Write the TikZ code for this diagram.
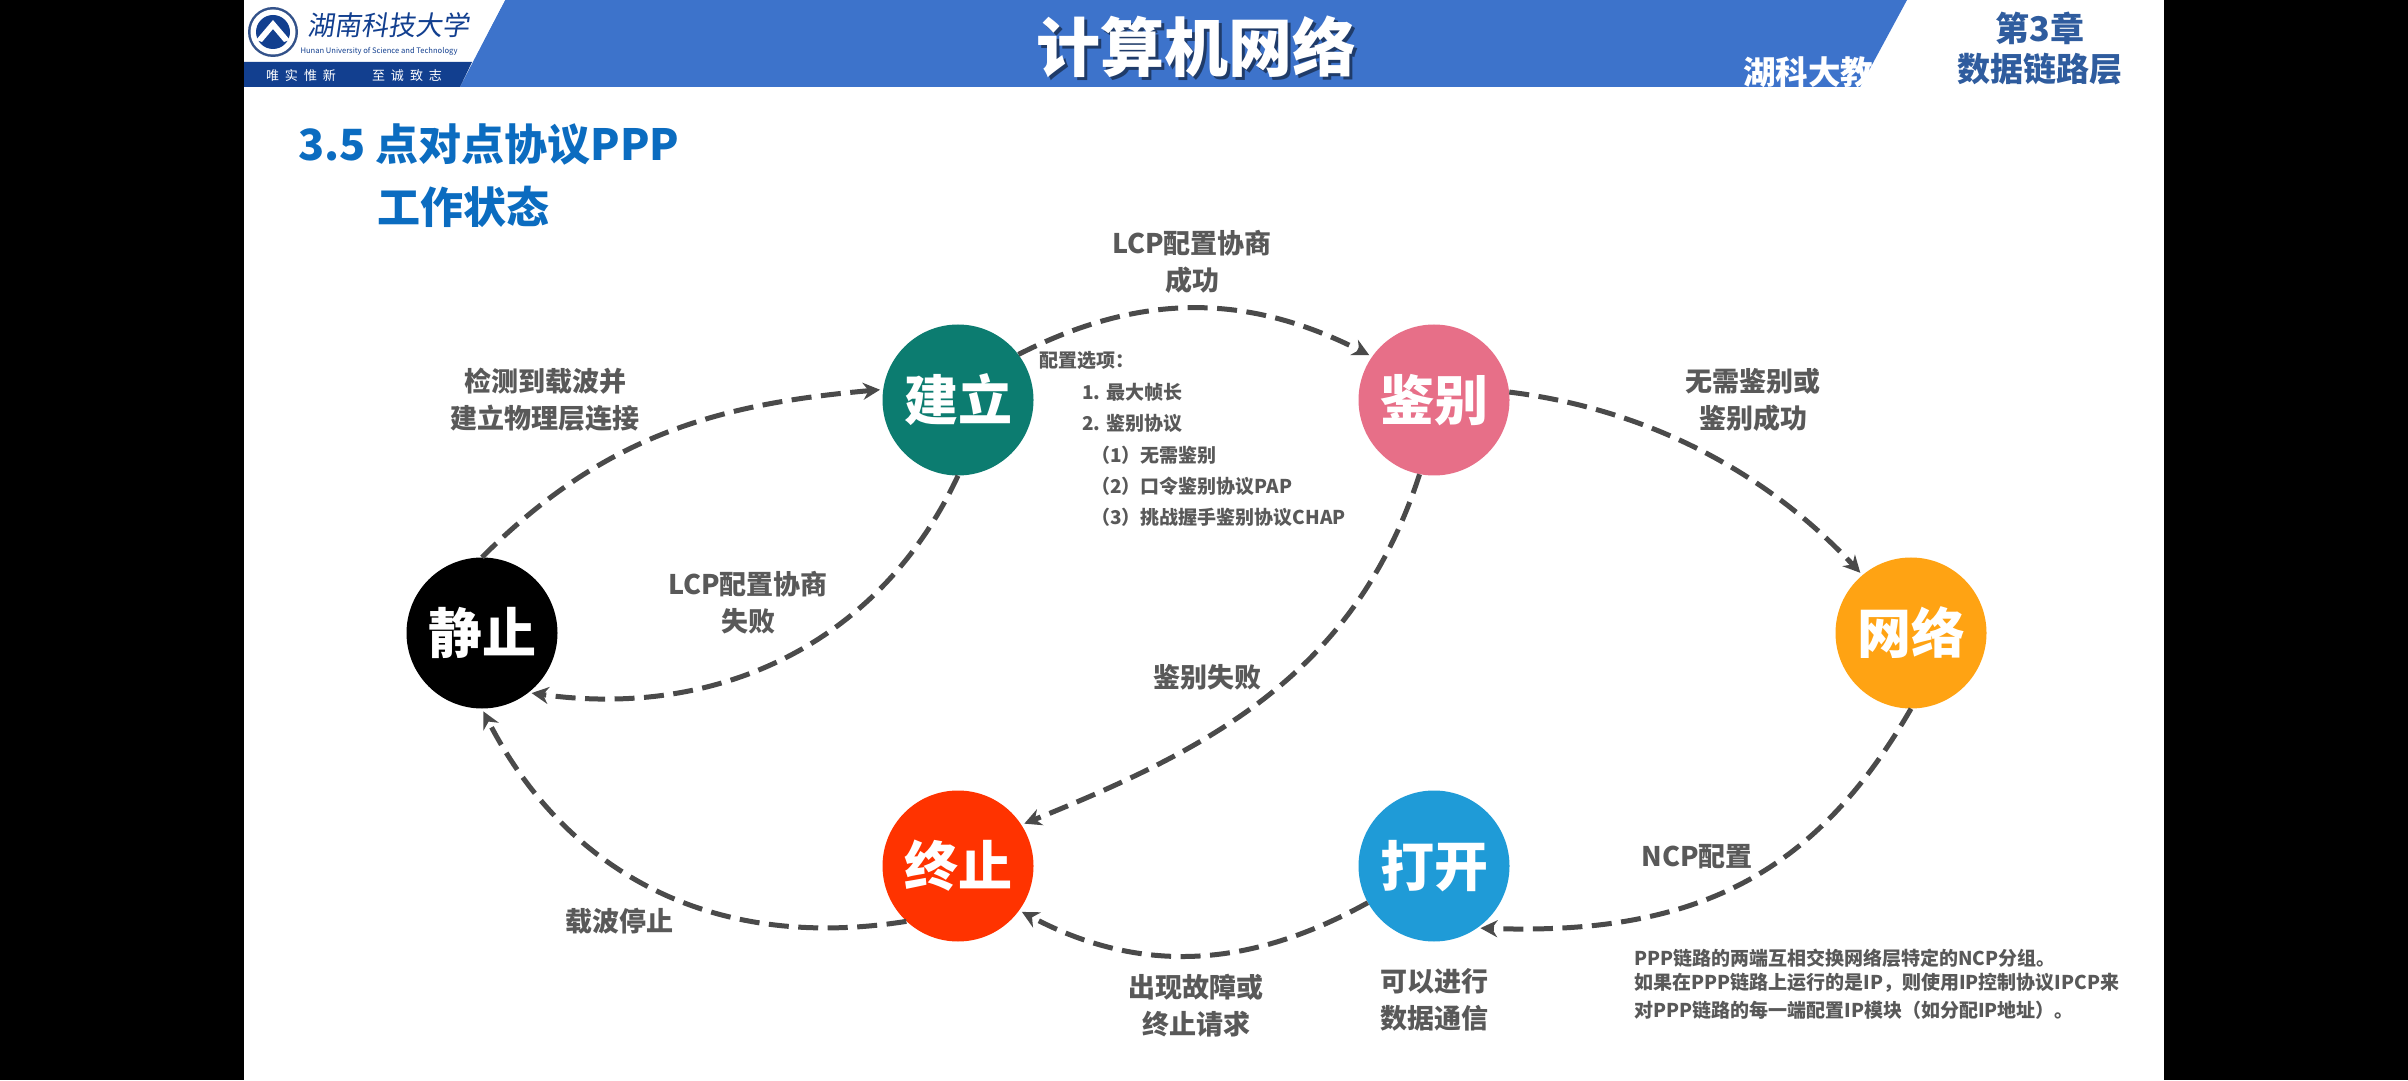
\documentclass[tikz,border=0pt]{standalone}
\usepackage{fontspec}
\usetikzlibrary{arrows.meta}
\setmainfont{Noto Sans CJK SC}
\newcommand\fsz[2]{\fontsize{#1pt}{#2pt}\selectfont}
\definecolor{hdrblue}{HTML}{3D73CB}
\definecolor{navy}{HTML}{123F8F}
\definecolor{ttlblue}{HTML}{0B6CC0}
\definecolor{lbl}{HTML}{595959}
\definecolor{arrowc}{HTML}{4A4A4A}
\definecolor{chapblue}{HTML}{2F5C9E}
\tikzset{
  state/.style={circle,minimum size=151pt,inner sep=0pt,text=white,font=\fsz{54}{54}\bfseries},
  flow/.style={draw=arrowc,line width=5pt,dash pattern=on 20pt off 9.5pt,shorten >=3pt,-{Stealth[length=17pt,width=17pt]}},
  lab/.style={text=lbl,align=center,inner sep=0pt,font=\fsz{27}{37}\bfseries},
  small/.style={text=lbl,anchor=west,inner sep=0pt,font=\fsz{19}{19}\bfseries},
  note/.style={text=lbl,anchor=west,inner sep=0pt,font=\fsz{19}{19}\bfseries},
}
\begin{document}
\begin{tikzpicture}[x=1pt,y=1pt]
\useasboundingbox (0,0) rectangle (2408,1080);
\fill[black] (0,0) rectangle (2408,1080);
\fill[white] (244,0) rectangle (2164,1080);
% header
\fill[hdrblue] (460,993) -- (505,1080) -- (1907,1080) -- (1860,993) -- cycle;
\fill[white] (244,1080) -- (505,1080) -- (472,1018) -- (244,1018) -- cycle;
\fill[navy] (244,1018) -- (472,1018) -- (460,993) -- (244,993) -- cycle;
% emblem
\fill[navy!70!gray] (273,1048) circle (25pt);
\fill[white] (273,1048) circle (22.5pt);
\fill[navy] (273,1048) circle (17pt);
\fill[white] (256,1040) -- (273,1060) -- (290,1040) -- (284,1038) -- (273,1051) -- (262,1038) -- cycle;
\node[text=navy,inner sep=0pt,xslant=.15,font=\fsz{27}{27}] (school) at (390,1055) {湖南科技大学};
\node[text=navy,inner sep=0pt,font=\fsz{7.6}{7.6}] (schoolen) at (379,1029) {Hunan University of Science and Technology};
\node[text=white,inner sep=0pt,font=\fsz{13}{13}] (motto1) at (301,1004) {唯\hspace{6pt}实\hspace{6pt}惟\hspace{6pt}新};
\node[text=white,inner sep=0pt,font=\fsz{13}{13}] (motto2) at (407,1004) {至\hspace{6pt}诚\hspace{6pt}致\hspace{6pt}志};
\node[text=black!60!hdrblue,opacity=.8,inner sep=0pt,font=\fsz{64}{64}\bfseries] (maintitleshadow) at (1199,1030) {计算机网络};
\node[text=white,inner sep=0pt,font=\fsz{64}{64}\bfseries] (maintitle) at (1196,1033) {计算机网络};
\node[text=white,inner sep=0pt,anchor=west,font=\fsz{32.5}{32.5}\bfseries] (wm) at (1743,1008) {湖科大教书匠};
\node[text=chapblue,inner sep=0pt,font=\fsz{34}{34}\bfseries] (chap) at (2040,1052) {第3章};
\node[text=chapblue,inner sep=0pt,font=\fsz{33}{33}\bfseries] (chapname) at (2040,1011) {数据链路层};
% slide title
\node[text=ttlblue,anchor=west,inner sep=0pt,font=\fsz{43}{43}\bfseries] (t1) at (298,936) {3.5 点对点协议PPP};
\node[text=ttlblue,anchor=west,inner sep=0pt,font=\fsz{43}{43}\bfseries] (t2) at (377,873) {工作状态};
% states
\node[state,fill=black] (jz) at (482,447) {静止};
\node[state,fill={rgb,255:red,12;green,124;blue,112}] (jl) at (958,680) {建立};
\node[state,fill={rgb,255:red,231;green,111;blue,136}] (jb) at (1434,680) {鉴别};
\node[state,fill={rgb,255:red,255;green,163;blue,19}] (wl) at (1911,447) {网络};
\node[state,fill={rgb,255:red,255;green,51;blue,0}] (zz) at (958,214) {终止};
\node[state,fill={rgb,255:red,31;green,155;blue,215}] (dk) at (1434,214) {打开};
% connectors
\draw[flow] (jz.90) to[out=45,in=185] (jl.172);
\draw[flow] (jl.37) to[out=27,in=153] (jb.145);
\draw[flow] (jb.6) to[out=-7,in=133,looseness=.9] (wl.130);
\draw[flow] (wl.270) .. controls +(-120:195pt) and +(-2:215pt) .. (dk.-55);
\draw[flow] (dk.209) to[out=209,in=-28] (zz.-36);
\draw[flow] (zz.227) .. controls +(189:210pt) and +(-63:170pt) .. (jz.270);
\draw[flow] (jl.270) to[out=-115,in=-8] (jz.-52);
\draw[flow] (jb.259) to[out=-108,in=22] (zz.33);
% labels
\node[lab] (a) at (545,680) {检测到载波并\\建立物理层连接};
\node[lab] (b) at (1192,818) {LCP配置协商\\成功};
\node[lab] (c) at (1753,680) {无需鉴别或\\鉴别成功};
\node[lab] (d) at (748,477) {LCP配置协商\\失败};
\node[lab] (e) at (1207,403) {鉴别失败};
\node[lab] (f) at (1697,223) {NCP配置};
\node[lab] (g) at (619,159) {载波停止};
\node[lab] (h) at (1196,74) {出现故障或\\终止请求};
\node[lab] (i) at (1434,80) {可以进行\\数据通信};
% config block
\node[small] (s0) at (1039,720) {配置选项：};
\node[small] (s1) at (1082,688) {1. 最大帧长};
\node[small] (s2) at (1082,657) {2. 鉴别协议};
\node[small] (s3) at (1091,625) {（1）无需鉴别};
\node[small] (s4) at (1091,594) {（2）口令鉴别协议PAP};
\node[small] (s5) at (1091,563) {（3）挑战握手鉴别协议CHAP};
% NCP note
\node[note] (n1) at (1634,122) {PPP链路的两端互相交换网络层特定的NCP分组。};
\node[note] (n2) at (1634,97) {如果在PPP链路上运行的是IP，则使用IP控制协议IPCP来};
\node[note] (n3) at (1634,70) {对PPP链路的每一端配置IP模块（如分配IP地址）。};
\end{tikzpicture}
\end{document}
